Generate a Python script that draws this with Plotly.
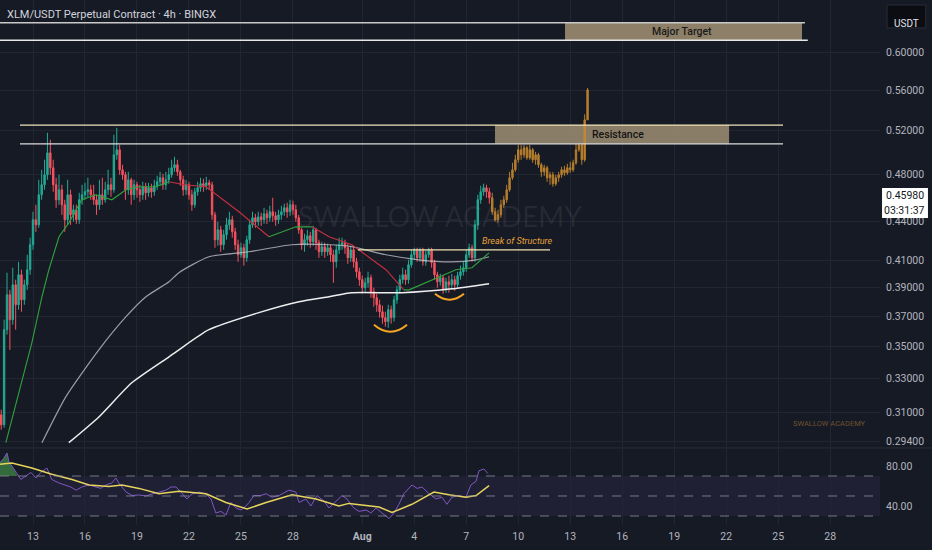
import numpy as np
import pandas as pd
import plotly.graph_objects as go

# --- 4h candles (XLM/USDT), first bar time ---
t0 = pd.Timestamp("2025-07-11 04:00")

first_open = 0.3087
closes = [
    0.3031, 0.3609, 0.3848, 0.3676, 0.3919, 0.3778, 0.3992, 0.3813, 0.3919, 0.4029,
    0.4218, 0.4416, 0.4375, 0.4623, 0.4709, 0.4796, 0.4993, 0.4858, 0.4709, 0.4581,
    0.4666, 0.4539, 0.4416, 0.4623, 0.4456, 0.4497, 0.4416, 0.4581, 0.4623, 0.4649,
    0.4666, 0.4623, 0.4581, 0.4539, 0.4623, 0.4581, 0.4666, 0.4709, 0.4666, 0.4975,
    0.5021, 0.4840, 0.4796, 0.4666, 0.4752, 0.4623, 0.4709, 0.4666, 0.4623, 0.4692,
    0.4640, 0.4683, 0.4649, 0.4700, 0.4735, 0.4770, 0.4709, 0.4752, 0.4796, 0.4858,
    0.4885, 0.4822, 0.4752, 0.4666, 0.4709, 0.4623, 0.4539, 0.4649, 0.4683, 0.4718,
    0.4700, 0.4726, 0.4709, 0.4456, 0.4257, 0.4335, 0.4218, 0.4296, 0.4375, 0.4416,
    0.4319, 0.4218, 0.4141, 0.4195, 0.4118, 0.4257, 0.4375, 0.4432, 0.4400, 0.4440,
    0.4416, 0.4464, 0.4432, 0.4481, 0.4448, 0.4416, 0.4456, 0.4481, 0.4514, 0.4481,
    0.4539, 0.4497, 0.4432, 0.4335, 0.4218, 0.4257, 0.4288, 0.4241, 0.4335, 0.4234,
    0.4164, 0.4203, 0.4164, 0.4195, 0.4141, 0.4088, 0.4179, 0.4218, 0.4234, 0.4195,
    0.4118, 0.4179, 0.4088, 0.4014, 0.3956, 0.3898, 0.3934, 0.3970, 0.3869, 0.3827,
    0.3778, 0.3730, 0.3690, 0.3663, 0.3744, 0.3690, 0.3813, 0.3883, 0.3956, 0.3992,
    0.3956, 0.4066, 0.4141, 0.4179, 0.4118, 0.4179, 0.4088, 0.4141, 0.4179, 0.4081,
    0.3992, 0.3941, 0.3970, 0.3883, 0.3941, 0.3919, 0.3956, 0.3919, 0.3985, 0.4014,
    0.4044, 0.4141, 0.4195, 0.4118, 0.4375, 0.4581, 0.4649, 0.4683, 0.4649, 0.4598,
]
highs = [
    0.3116, 0.3676, 0.4007, 0.3883, 0.4044, 0.3956, 0.4088, 0.4029, 0.3956, 0.4141,
    0.4273, 0.4481, 0.4539, 0.4752, 0.4840, 0.4930, 0.5180, 0.5114, 0.4930, 0.4770,
    0.4796, 0.4709, 0.4581, 0.4752, 0.4666, 0.4539, 0.4539, 0.4640, 0.4709, 0.4726,
    0.4770, 0.4709, 0.4709, 0.4623, 0.4752, 0.4770, 0.4735, 0.4840, 0.4770, 0.5161,
    0.5228, 0.5067, 0.4885, 0.4822, 0.4822, 0.4770, 0.4752, 0.4735, 0.4709, 0.4735,
    0.4726, 0.4726, 0.4718, 0.4752, 0.4787, 0.4822, 0.4805, 0.4822, 0.4858, 0.4930,
    0.4957, 0.4930, 0.4840, 0.4787, 0.4752, 0.4735, 0.4666, 0.4683, 0.4735, 0.4770,
    0.4761, 0.4778, 0.4752, 0.4735, 0.4481, 0.4400, 0.4367, 0.4335, 0.4432, 0.4481,
    0.4448, 0.4351, 0.4257, 0.4234, 0.4226, 0.4288, 0.4416, 0.4481, 0.4464, 0.4481,
    0.4473, 0.4514, 0.4497, 0.4531, 0.4598, 0.4481, 0.4497, 0.4531, 0.4548, 0.4556,
    0.4581, 0.4573, 0.4539, 0.4456, 0.4351, 0.4304, 0.4335, 0.4319, 0.4367, 0.4351,
    0.4257, 0.4241, 0.4234, 0.4226, 0.4218, 0.4179, 0.4218, 0.4273, 0.4273, 0.4257,
    0.4226, 0.4210, 0.4210, 0.4118, 0.4044, 0.3985, 0.3970, 0.4014, 0.3992, 0.3898,
    0.3855, 0.3813, 0.3772, 0.3730, 0.3778, 0.3772, 0.3841, 0.3912, 0.3992, 0.4044,
    0.4029, 0.4103, 0.4179, 0.4195, 0.4195, 0.4195, 0.4195, 0.4179, 0.4195, 0.4195,
    0.4103, 0.4014, 0.3999, 0.3985, 0.3970, 0.3985, 0.3999, 0.3985, 0.4014, 0.4059,
    0.4088, 0.4179, 0.4226, 0.4218, 0.4416, 0.4623, 0.4700, 0.4718, 0.4709, 0.4683,
]
lows = [
    0.3004, 0.3015, 0.3576, 0.3478, 0.3642, 0.3609, 0.3744, 0.3730, 0.3778, 0.3883,
    0.3992, 0.4179, 0.4319, 0.4351, 0.4581, 0.4666, 0.4752, 0.4796, 0.4649, 0.4514,
    0.4539, 0.4456, 0.4319, 0.4375, 0.4375, 0.4400, 0.4383, 0.4383, 0.4539, 0.4581,
    0.4598, 0.4581, 0.4539, 0.4456, 0.4497, 0.4539, 0.4556, 0.4623, 0.4606, 0.4640,
    0.4930, 0.4796, 0.4752, 0.4581, 0.4623, 0.4539, 0.4581, 0.4598, 0.4564, 0.4581,
    0.4581, 0.4606, 0.4598, 0.4615, 0.4666, 0.4700, 0.4666, 0.4666, 0.4718, 0.4770,
    0.4822, 0.4787, 0.4700, 0.4615, 0.4623, 0.4581, 0.4489, 0.4514, 0.4615, 0.4649,
    0.4649, 0.4666, 0.4666, 0.4416, 0.4195, 0.4210, 0.4164, 0.4179, 0.4257, 0.4335,
    0.4273, 0.4179, 0.4088, 0.4118, 0.4059, 0.4088, 0.4226, 0.4351, 0.4351, 0.4367,
    0.4367, 0.4383, 0.4383, 0.4400, 0.4400, 0.4367, 0.4383, 0.4416, 0.4448, 0.4432,
    0.4448, 0.4456, 0.4400, 0.4304, 0.4179, 0.4164, 0.4210, 0.4195, 0.4210, 0.4179,
    0.4118, 0.4133, 0.4118, 0.4133, 0.4088, 0.3934, 0.4044, 0.4148, 0.4179, 0.4148,
    0.4073, 0.4088, 0.4044, 0.3970, 0.3912, 0.3855, 0.3869, 0.3898, 0.3827, 0.3765,
    0.3730, 0.3690, 0.3649, 0.3629, 0.3622, 0.3649, 0.3663, 0.3785, 0.3855, 0.3927,
    0.3919, 0.3927, 0.4044, 0.4103, 0.4088, 0.4088, 0.4059, 0.4059, 0.4118, 0.4044,
    0.3956, 0.3898, 0.3912, 0.3855, 0.3862, 0.3862, 0.3883, 0.3876, 0.3898, 0.3956,
    0.3985, 0.4014, 0.4118, 0.4088, 0.4088, 0.4335, 0.4548, 0.4615, 0.4598, 0.4548,
]

# projected path (orange bars pattern)
proj_closes = [
    0.4481, 0.4416, 0.4456, 0.4539, 0.4581, 0.4666, 0.4770, 0.4840, 0.4930, 0.5021,
    0.4975, 0.5039, 0.4948, 0.5021, 0.4930, 0.4975, 0.4885, 0.4822, 0.4858, 0.4770,
    0.4796, 0.4718, 0.4770, 0.4796, 0.4840, 0.4813, 0.4858, 0.4840, 0.4903, 0.5021,
    0.5067, 0.4930, 0.5305, 0.5605,
]
proj_highs = [
    0.4640, 0.4514, 0.4497, 0.4581, 0.4615, 0.4709, 0.4822, 0.4903, 0.4975, 0.5067,
    0.5067, 0.5067, 0.5058, 0.5067, 0.5039, 0.5002, 0.4993, 0.4903, 0.4885, 0.4876,
    0.4822, 0.4822, 0.4796, 0.4822, 0.4867, 0.4876, 0.4894, 0.4912, 0.4930, 0.5076,
    0.5086, 0.5086, 0.5359, 0.5625,
]
proj_lows = [
    0.4456, 0.4400, 0.4391, 0.4432, 0.4514, 0.4556, 0.4649, 0.4752, 0.4822, 0.4903,
    0.4930, 0.4948, 0.4930, 0.4930, 0.4903, 0.4885, 0.4858, 0.4778, 0.4787, 0.4735,
    0.4709, 0.4692, 0.4700, 0.4735, 0.4770, 0.4787, 0.4796, 0.4813, 0.4822, 0.4885,
    0.5002, 0.4885, 0.4912, 0.5305,
]

# moving averages, positions given in bar numbers
ma_fast_bar = [1.6, 6.1, 10.6, 14.1, 16.5, 20.0, 23.4, 27.9, 32.8, 38.3, 43.2, 47.7, 53.6, 58.1,
               63.3, 70.9, 82.3, 92.7, 102.0, 107.6, 113.5, 121.4, 133.2, 139.4, 141.2, 157.4,
               163.0, 168.9]
ma_fast_val = [0.2933, 0.3215, 0.3523, 0.3834, 0.4029, 0.4280, 0.4391, 0.4581, 0.4623, 0.4581,
               0.4666, 0.4692, 0.4692, 0.4735, 0.4709, 0.4692, 0.4481, 0.4280, 0.4359, 0.4359,
               0.4280, 0.4218, 0.4029, 0.3883, 0.3883, 0.4029, 0.4044, 0.4156]
ma_mid_bar = [14.1, 22.4, 33.8, 43.2, 50.1, 58.1, 61.5, 71.9, 85.7, 100.6, 113.5, 121.4, 133.2,
              144.6, 156.0, 164.4, 168.9]
ma_mid_val = [0.2933, 0.3192, 0.3478, 0.3696, 0.3834, 0.3941, 0.4007, 0.4126, 0.4164, 0.4218,
              0.4218, 0.4203, 0.4141, 0.4103, 0.4088, 0.4103, 0.4126]
ma_slow_bar = [23.4, 33.8, 45.2, 58.1, 61.5, 71.9, 89.2, 103.1, 113.5, 121.4, 138.7, 156.0, 168.9]
ma_slow_val = [0.2933, 0.3075, 0.3274, 0.3434, 0.3478, 0.3609, 0.3724, 0.3799, 0.3834, 0.3862,
               0.3862, 0.3890, 0.3927]

# RSI pane
rsi_bar = [-0.8, 0.9, 2.0, 2.7, 4.4, 6.8, 8.5, 10.3, 12.0, 13.7, 15.8, 17.5, 20.0, 22.4, 24.1,
           25.9, 27.9, 30.4, 32.8, 34.5, 36.2, 38.3, 39.7, 40.7, 43.2, 45.3, 47.7, 50.1, 52.2,
           54.6, 57.0, 58.8, 60.5, 62.2, 64.3, 66.0, 68.5, 70.9, 72.6, 74.3, 76.1, 77.8, 79.5,
           81.3, 83.0, 84.7, 85.8, 87.5, 89.9, 91.7, 93.7, 96.2, 99.6, 102.0, 103.1, 105.5,
           107.2, 109.3, 111.7, 113.5, 115.9, 118.0, 119.7, 122.1, 123.9, 126.3, 128.0, 129.8,
           131.8, 134.3, 136.0, 137.7, 139.4, 142.2, 144.0, 145.7, 148.1, 150.5, 152.6, 154.3,
           156.1, 158.5, 160.9, 162.6, 164.4, 165.4, 167.1, 168.5]
rsi_val = [82.4, 87.7, 93.0, 84.0, 77.0, 66.5, 70.0, 73.5, 68.0, 73.5, 78.0, 66.5, 63.0, 61.0,
           59.0, 55.8, 59.0, 61.0, 59.0, 57.6, 61.0, 63.0, 68.0, 63.0, 54.0, 50.5, 51.0, 50.0,
           52.0, 54.0, 55.8, 59.0, 59.0, 54.0, 47.0, 52.0, 54.0, 52.0, 47.0, 33.0, 34.6, 31.0,
           43.5, 38.0, 36.0, 40.0, 43.5, 50.5, 50.5, 52.3, 48.8, 50.5, 55.8, 54.0, 43.5, 47.0,
           40.0, 50.5, 45.0, 38.0, 45.0, 50.5, 47.0, 38.0, 34.6, 36.0, 33.0, 38.0, 33.0, 27.5,
           33.0, 41.7, 52.3, 61.0, 57.6, 59.0, 52.3, 47.0, 48.8, 41.7, 48.8, 50.5, 48.8, 61.0,
           64.7, 75.3, 77.0, 72.5]
rsi_ma_bar = [-0.8, 3.7, 10.6, 17.5, 24.5, 30.4, 37.3, 41.8, 47.7, 54.6, 61.5, 70.9, 77.8, 85.1,
              91.7, 100.7, 109.0, 116.9, 120.4, 130.8, 135.3, 142.2, 149.8, 155.0, 160.9, 164.4,
              168.9]
rsi_ma_val = [81.7, 83.0, 78.0, 71.8, 66.5, 61.0, 59.4, 61.0, 57.6, 52.3, 54.8, 52.3, 43.5, 37.0,
              43.5, 51.2, 47.0, 40.0, 42.6, 39.0, 33.5, 41.7, 54.0, 51.2, 48.8, 50.5, 60.4]
ob_bar = [-0.8, 0.9, 2.0, 2.7, 4.4, 5.6]
ob_val = [82.4, 87.7, 93.0, 84.0, 77.0, 70.0]

# axes
price_ticks = [0.60, 0.56, 0.52, 0.48, 0.44, 0.41, 0.39, 0.37, 0.35, 0.33, 0.31, 0.294]
price_labels = ["0.60000", "0.56000", "0.52000", "0.48000", "0.44000", "0.41000", "0.39000",
                "0.37000", "0.35000", "0.33000", "0.31000", "0.29400"]
date_ticks = ["2025-07-13", "2025-07-16", "2025-07-19", "2025-07-22", "2025-07-25", "2025-07-28",
              "2025-08-01", "2025-08-04", "2025-08-07", "2025-08-10", "2025-08-13", "2025-08-16",
              "2025-08-19", "2025-08-22", "2025-08-25", "2025-08-28"]
date_labels = ["13", "16", "19", "22", "25", "28", "<b>Aug</b>", "4", "7", "10", "13", "16",
               "19", "22", "25", "28"]

# drawn levels
major_target = (0.614, 0.634)
resistance = (0.5076, 0.5254)
bos_level = 0.4179
last_price = 0.4598

BG = "#161a25"
GRID = "#222633"
TXT = "#b2b5be"
UP = "#22ab94"
DN = "#f7525f"
ORANGE = "#c98a2e"
FONT = "Roboto"


def bar_time(bars):
    return t0 + pd.to_timedelta(np.asarray(bars, dtype=float) * 4, unit="h")


times = t0 + pd.to_timedelta(np.arange(len(closes)) * 4, unit="h")
opens = [first_open] + closes[:-1]
proj_times = times[-1] + pd.to_timedelta(np.arange(1, len(proj_closes) + 1) * 4, unit="h")
proj_opens = [closes[-1]] + proj_closes[:-1]

fig = go.Figure()

fig.add_trace(go.Candlestick(
    x=times, open=opens, high=highs, low=lows, close=closes,
    increasing=dict(line=dict(color=UP, width=1), fillcolor=UP),
    decreasing=dict(line=dict(color=DN, width=1), fillcolor=DN),
    showlegend=False, xaxis="x", yaxis="y"))

fig.add_trace(go.Candlestick(
    x=proj_times, open=proj_opens, high=proj_highs, low=proj_lows, close=proj_closes,
    increasing=dict(line=dict(color=ORANGE, width=1), fillcolor=ORANGE),
    decreasing=dict(line=dict(color=ORANGE, width=1), fillcolor=ORANGE),
    opacity=0.9, showlegend=False, xaxis="x", yaxis="y"))

# slow and mid MA
fig.add_trace(go.Scatter(x=bar_time(ma_slow_bar), y=ma_slow_val, mode="lines",
                         line=dict(color="#eeeeee", width=1.5, shape="spline", smoothing=0.6),
                         showlegend=False, xaxis="x", yaxis="y"))
fig.add_trace(go.Scatter(x=bar_time(ma_mid_bar), y=ma_mid_val, mode="lines",
                         line=dict(color="rgba(200,202,210,0.75)", width=1.2, shape="spline",
                                   smoothing=0.6),
                         showlegend=False, xaxis="x", yaxis="y"))

# fast MA changes colour with its direction
segments = [(0, 13, "#2fa33c"), (13, 17, "#c8303f"), (17, 19, "#2fa33c"),
            (19, 23, "#c8303f"), (23, len(ma_fast_bar) - 1, "#2fa33c")]
for a, b, col in segments:
    fig.add_trace(go.Scatter(x=bar_time(ma_fast_bar[a:b + 1]), y=ma_fast_val[a:b + 1],
                             mode="lines", line=dict(color=col, width=1.1), showlegend=False,
                             xaxis="x", yaxis="y"))

# RSI
fig.add_trace(go.Scatter(x=bar_time(ob_bar), y=[70] * len(ob_bar), mode="lines",
                         line=dict(width=0), showlegend=False, xaxis="x2", yaxis="y2"))
fig.add_trace(go.Scatter(x=bar_time(ob_bar), y=ob_val, mode="lines", fill="tonexty",
                         fillcolor="rgba(76,175,80,0.55)", line=dict(width=0),
                         showlegend=False, xaxis="x2", yaxis="y2"))
fig.add_trace(go.Scatter(x=bar_time(rsi_bar), y=rsi_val, mode="lines",
                         line=dict(color="#7e57c2", width=1), showlegend=False,
                         xaxis="x2", yaxis="y2"))
fig.add_trace(go.Scatter(x=bar_time(rsi_ma_bar), y=rsi_ma_val, mode="lines",
                         line=dict(color="#e6d45c", width=1.5), showlegend=False,
                         xaxis="x2", yaxis="y2"))

x_range = ["2025-07-11 02:18", "2025-08-30 21:00"]

shapes = []
# Major target zone
shapes.append(dict(type="rect", xref="x", yref="y", x0="2025-08-12 16:48", x1="2025-08-26 09:00",
                   y0=major_target[0], y1=major_target[1], fillcolor="#8e8068",
                   line=dict(width=0), layer="between"))
shapes.append(dict(type="line", xref="x", yref="y", x0=x_range[0], x1="2025-08-26 13:00",
                   y0=major_target[1], y1=major_target[1], line=dict(color="#c9c9c9", width=1.5)))
shapes.append(dict(type="line", xref="x", yref="y", x0=x_range[0], x1="2025-08-26 17:00",
                   y0=major_target[0], y1=major_target[0], line=dict(color="#e6e6e6", width=1.5)))
# Resistance zone
shapes.append(dict(type="rect", xref="x", yref="y", x0="2025-08-08 15:50", x1="2025-08-22 04:00",
                   y0=resistance[0], y1=resistance[1], fillcolor="rgba(150,136,112,0.9)",
                   line=dict(width=0), layer="between"))
shapes.append(dict(type="line", xref="x", yref="y", x0="2025-07-12 06:00", x1="2025-08-25 06:45",
                   y0=resistance[1], y1=resistance[1], line=dict(color="#efe3b8", width=1.3)))
shapes.append(dict(type="line", xref="x", yref="y", x0="2025-07-12 06:00", x1="2025-08-25 06:45",
                   y0=resistance[0], y1=resistance[0], line=dict(color="#dcdcdc", width=1.3)))
# Break of structure
shapes.append(dict(type="line", xref="x", yref="y", x0="2025-07-31 18:00", x1="2025-08-11 20:00",
                   y0=bos_level, y1=bos_level, line=dict(color="#efe0b0", width=1.3)))
# rounded bottoms
shapes.append(dict(type="path", xref="x", yref="y",
                   path="M2025-08-01_16:12,0.3642 Q2025-08-02_15:06,0.3550 2025-08-03_14:00,0.3642",
                   line=dict(color="#f5a623", width=2)))
shapes.append(dict(type="path", xref="x", yref="y",
                   path="M2025-08-05_04:42,0.3855 Q2025-08-06_00:48,0.3772 2025-08-06_20:54,0.3855",
                   line=dict(color="#f5a623", width=2)))
# RSI band and levels
shapes.append(dict(type="rect", xref="paper", yref="y2", x0=0, x1=1, y0=30, y1=70,
                   fillcolor="rgba(126,87,194,0.10)", line=dict(width=0), layer="between"))
for lvl in (70, 50, 30):
    shapes.append(dict(type="line", xref="paper", yref="y2", x0=0, x1=1, y0=lvl, y1=lvl,
                       line=dict(color="rgba(140,143,154,0.8)", width=1, dash="dash")))
# pane separator
shapes.append(dict(type="line", xref="paper", yref="paper", x0=0, x1=1.06, y0=0.1467, y1=0.1467,
                   line=dict(color="#2a2e39", width=1)))
# price label and currency button
shapes.append(dict(type="rect", xref="paper", yref="paper", x0=1.0023, x1=1.0545,
                   y0=0.5848, y1=0.6419, fillcolor="#ffffff", line=dict(width=0)))
shapes.append(dict(type="rect", xref="paper", yref="paper", x0=1.008, x1=1.052,
                   y0=0.9467, y1=0.9905, fillcolor="#0b0d13",
                   line=dict(color="#2a2e39", width=1)))

annotations = [
    dict(text="XLM/USDT Perpetual Contract · 4h · BINGX", xref="paper", yref="paper",
         x=0.006, y=0.973, xanchor="left", yanchor="middle", showarrow=False,
         font=dict(family=FONT, size=11, color="#d1d4dc")),
    dict(text="SWALLOW ACADEMY", xref="paper", yref="paper", x=0.5, y=0.588,
         xanchor="center", showarrow=False,
         font=dict(family="Lato", size=28, color="rgba(150,150,160,0.12)")),
    dict(text="SWALLOW ACADEMY", xref="paper", yref="paper", x=0.943, y=0.181,
         xanchor="center", showarrow=False,
         font=dict(family=FONT, size=7.5, color="rgba(190,130,60,0.55)")),
    dict(text="Major Target", xref="x", yref="y", x="2025-08-19 10:50",
         y=np.log10(sum(major_target) / 2), xanchor="center", showarrow=False,
         font=dict(family=FONT, size=10.5, color="#1a1a1a", weight=500)),
    dict(text="Resistance", xref="x", yref="y", x="2025-08-14 03:20", xanchor="left",
         y=np.log10(sum(resistance) / 2), showarrow=False,
         font=dict(family=FONT, size=10.5, color="#141414", weight=500)),
    dict(text="<i>Break of Structure</i>", xref="x", yref="y", x="2025-08-09 22:20",
         y=np.log10(0.4249), xanchor="center", showarrow=False,
         font=dict(family=FONT, size=9, color="#e8a33a")),
    dict(text=f"{last_price:.5f}", xref="paper", yref="paper", x=1.0284, y=0.6267,
         xanchor="center", showarrow=False,
         font=dict(family=FONT, size=10.5, color="#131722")),
    dict(text="03:31:37", xref="paper", yref="paper", x=1.0284, y=0.600,
         xanchor="center", showarrow=False,
         font=dict(family=FONT, size=10.5, color="#131722")),
    dict(text="USDT", xref="paper", yref="paper", x=1.030, y=0.9686,
         xanchor="center", showarrow=False,
         font=dict(family=FONT, size=10, color="#e0e3eb")),
]

axis_font = dict(family=FONT, size=10.5, color=TXT)

fig.update_layout(
    width=932, height=550,
    margin=dict(l=0, r=52, t=0, b=25),
    paper_bgcolor=BG, plot_bgcolor=BG,
    showlegend=False, hovermode=False,
    shapes=shapes, annotations=annotations,
    xaxis=dict(domain=[0, 1], anchor="y", range=x_range, tickvals=date_ticks,
               showticklabels=False, showgrid=True, gridcolor=GRID, zeroline=False,
               rangeslider=dict(visible=False), showline=False),
    xaxis2=dict(domain=[0, 1], anchor="y2", range=x_range, tickvals=date_ticks,
                ticktext=date_labels, tickfont=axis_font, showgrid=True, gridcolor=GRID,
                zeroline=False, showline=False, ticks="", ticklabelstandoff=3),
    yaxis=dict(domain=[0.1486, 1], anchor="x", type="log",
               range=[np.log10(0.291), np.log10(0.661)], side="right",
               tickvals=price_ticks, ticktext=price_labels, tickfont=axis_font,
               showgrid=True, gridcolor=GRID, zeroline=False, ticks="",
               ticklabelstandoff=5),
    yaxis2=dict(domain=[0, 0.1448], anchor="x2", range=[21, 97], side="right",
                tickvals=[80, 40], ticktext=["80.00", "40.00"], tickfont=axis_font,
                showgrid=False, zeroline=False, ticks="", ticklabelstandoff=5),
)

# page without the default body margin so the chart fills the window
fig.write_html("out.html", config={"displayModeBar": False},
               post_script="document.body.style.margin='0';document.body.style.background='#161a25';")
